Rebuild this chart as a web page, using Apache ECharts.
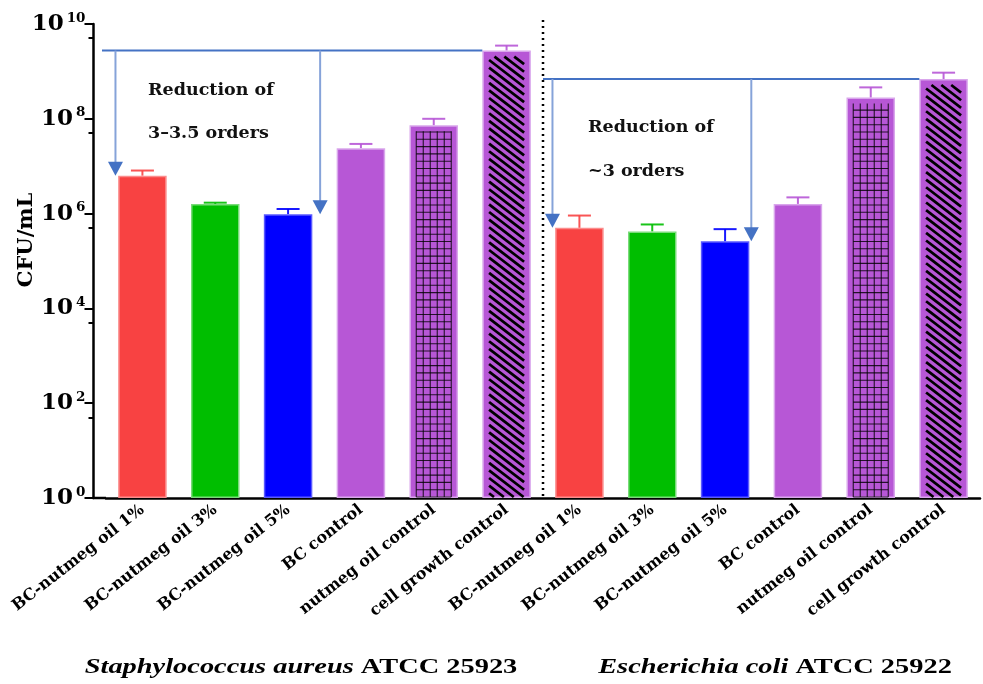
<!DOCTYPE html>
<html>
<head>
<meta charset="utf-8">
<script src="https://cdn.jsdelivr.net/npm/echarts@6/dist/echarts.min.js"></script>
<style>
  html, body { margin: 0; padding: 0; background: #ffffff; }
  #chart { width: 983px; height: 684px; }
</style>
</head>
<body>
<div id="chart"></div>
<script>
// Treatment groups, repeated for each organism
const categories = [
  'BC-nutmeg oil 1%', 'BC-nutmeg oil 3%', 'BC-nutmeg oil 5%',
  'BC control', 'nutmeg oil control', 'cell growth control',
  'BC-nutmeg oil 1%', 'BC-nutmeg oil 3%', 'BC-nutmeg oil 5%',
  'BC control', 'nutmeg oil control', 'cell growth control'
];

// Staphylococcus aureus ATCC 25923 (CFU/mL): mean and mean + SD
const saureusMean  = [6.3e6, 1.6e6, 9.7e5, 2.4e7, 7.3e7, 2.75e9];
const saureusUpper = [8.1e6, 1.7e6, 1.25e6, 2.95e7, 1.0e8, 3.5e9];

// Escherichia coli ATCC 25922 (CFU/mL): mean and mean + SD
const ecoliMean  = [5.0e5, 4.2e5, 2.6e5, 1.6e6, 2.8e8, 6.9e8];
const ecoliUpper = [9.1e5, 5.9e5, 4.7e5, 2.2e6, 4.6e8, 9.4e8];

// Fill pattern per group position: 0 none, 1 grid, 2 hatch
const patternKinds = [0, 0, 0, 0, 1, 2];

// Reduction annotations: reference bar (control) and the two arrow targets
const reductionControl = [5, 11];
const reductionTargets = [[0, 2], [6, 8]];
const reductionText = [['Reduction of', '3–3.5 orders'], ['Reduction of', '~3 orders']];

const organismTitles = [
  { italic: 'Staphylococcus aureus', plain: ' ATCC 25923' },
  { italic: 'Escherichia coli', plain: ' ATCC 25922' }
];

// --- styling ---
const fillColors   = ['#F84242', '#00BE00', '#0000FF', '#B757D6', '#B757D6', '#B757D6'];
const borderColors = ['#FB8C8C', '#7ADB7A', '#5A5AFF', '#D9A6EC', '#D9A6EC', '#D9A6EC'];
const serif = 'DejaVu Serif';
const arrowBlue = '#4472C4';
const arrowStem = '#86A3D9';

const means  = saureusMean.concat(ecoliMean);
const uppers = saureusUpper.concat(ecoliUpper);
const kinds  = patternKinds.concat(patternKinds);

const barData = means.map((v, i) => ({
  value: v,
  itemStyle: { color: fillColors[i % 6], borderColor: borderColors[i % 6], borderWidth: 1.5 }
}));
const errData = means.map((v, i) => [i, v, uppers[i]]);
const patternData = means.map((v, i) => [i, v, kinds[i]]).filter(d => d[2] > 0);
const annotationData = reductionControl.map((c, g) => [g, c, reductionTargets[g][0], reductionTargets[g][1]]);

const BAR_W = 48.5;
const Y_OFFSET = 12.5;

function renderErrorBar(params, api) {
  const i = api.value(0);
  const top = api.coord([i, api.value(1)]);
  const up = api.coord([i, api.value(2)]);
  const half = 11.5;
  const col = fillColors[i % 6];
  const st = { stroke: col, lineWidth: 2, opacity: 0.9 };
  return {
    type: 'group',
    children: [
      { type: 'line', shape: { x1: top[0], y1: top[1], x2: up[0], y2: up[1] }, style: st },
      { type: 'line', shape: { x1: up[0] - half, y1: up[1], x2: up[0] + half, y2: up[1] }, style: st }
    ]
  };
}

function renderPattern(params, api) {
  const i = api.value(0);
  const kind = api.value(2);
  const top = api.coord([i, api.value(1)]);
  const base = api.coord([i, 1]);
  const w = 35;
  const x0 = top[0] - w / 2, x1 = top[0] + w / 2;
  const yTop = top[1] + 6, yBot = base[1] - 1;
  const children = [];
  if (kind === 1) {
    const lineStyle = { stroke: '#000', lineWidth: 1.1, opacity: 0.8 };
    for (let k = 0; k <= 5; k++) {
      const x = x0 + k * w / 5;
      children.push({ type: 'line', shape: { x1: x, y1: yTop, x2: x, y2: yBot }, style: lineStyle });
    }
    for (let y = yBot; y >= yTop; y -= 7.3) {
      children.push({ type: 'line', shape: { x1: x0, y1: y, x2: x1, y2: y }, style: lineStyle });
    }
  } else {
    const s = 0.77;
    const lineStyle = { stroke: '#000', lineWidth: 2.7 };
    for (let b = yTop - s * w; b <= yBot; b += 7.6) {
      const xa = Math.max(x0, x0 + (yTop - b) / s);
      const xb = Math.min(x1, x0 + (yBot - b) / s);
      if (xb <= xa) continue;
      children.push({
        type: 'line',
        shape: { x1: xa, y1: b + s * (xa - x0), x2: xb, y2: b + s * (xb - x0) },
        style: lineStyle
      });
    }
  }
  return { type: 'group', children: children };
}

function arrow(x, yFrom, yTo) {
  const head = 14;
  return [
    { type: 'line', shape: { x1: x, y1: yFrom, x2: x, y2: yTo - head + 1 }, style: { stroke: arrowStem, lineWidth: 2 } },
    { type: 'polygon', shape: { points: [[x - 7.5, yTo - head], [x + 7.5, yTo - head], [x, yTo]] }, style: { fill: arrowBlue } }
  ];
}

function renderAnnotation(params, api) {
  const g = api.value(0);
  const ctrl = api.value(1);
  const t1 = api.value(2), t2 = api.value(3);
  const band = api.size([1, 0])[0];
  const level = api.coord([ctrl, means[ctrl]]);
  const p1 = api.coord([t1, means[t1]]);
  const p2 = api.coord([t2, means[t2]]);
  const first = api.coord([t1, 1]);
  const xStart = g === 0 ? first[0] - 0.555 * band : first[0] - 0.5 * band;
  const xEnd = level[0] - BAR_W / 2;
  const children = [
    { type: 'line', shape: { x1: xStart, y1: level[1], x2: xEnd, y2: level[1] }, style: { stroke: arrowBlue, lineWidth: 2 } }
  ].concat(
    arrow(p1[0] - 0.37 * band, level[1], p1[1]),
    arrow(p2[0] + (g === 0 ? 0.44 : 0.36) * band, level[1], p2[1])
  );
  if (g === 0) {
    // extend the category baseline back to the offset value axis
    const edge = first[0] - 0.5 * band;
    children.push({ type: 'line', shape: { x1: edge - Y_OFFSET - 1, y1: first[1], x2: edge, y2: first[1] }, style: { stroke: '#000', lineWidth: 2.5 } });
  } else {
    // dotted divider between the two organisms
    const xs = first[0] - 0.5 * band;
    const yTop = api.coord([t1, 1e10])[1] - 4;
    children.push({ type: 'line', shape: { x1: xs, y1: yTop, x2: xs, y2: first[1] }, style: { stroke: '#000', lineWidth: 2.5, lineDash: [2, 4] } });
  }
  return { type: 'group', children: children };
}

const chart = echarts.init(document.getElementById('chart'), null, { renderer: 'canvas' });

const textStyleAnno = { fontFamily: serif, fontWeight: 'bold', fontSize: 17.5, fill: '#111' };
const titleRich = {
  i: { fontFamily: 'Liberation Serif', fontStyle: 'italic', fontWeight: 'bold', fontSize: 20, fill: '#000' },
  p: { fontFamily: 'Liberation Serif', fontWeight: 'bold', fontSize: 20, fill: '#000' }
};

chart.setOption({
  animation: false,
  backgroundColor: '#ffffff',
  grid: { left: 106, right: 3, top: 24, bottom: 186, containLabel: false, outerBoundsMode: 'none' },
  xAxis: {
    type: 'category',
    data: categories,
    axisLine: { lineStyle: { color: '#000', width: 2.5 } },
    axisTick: { alignWithLabel: true, length: 6, lineStyle: { color: '#000', width: 2.5 } },
    axisLabel: {
      rotate: 38, interval: 0, margin: 10,
      fontFamily: serif, fontWeight: 'bold', fontSize: 16, color: '#000'
    }
  },
  yAxis: {
    type: 'log',
    logBase: 10,
    min: 1,
    max: 1e10,
    interval: 2,
    offset: Y_OFFSET,
    name: 'CFU/mL',
    nameLocation: 'middle',
    nameGap: 56,
    nameMoveOverlap: false,
    nameRotate: 90,
    nameTextStyle: { fontFamily: serif, fontWeight: 'bold', fontSize: 21, color: '#000', padding: [0, 0, 0, 42] },
    axisLine: { show: true, lineStyle: { color: '#000', width: 2.5 } },
    axisTick: { show: true, length: 9, lineStyle: { color: '#000', width: 2 } },
    minorTick: { show: true, splitNumber: 2, length: 5, lineStyle: { color: '#000', width: 2 } },
    splitLine: { show: false },
    axisLabel: {
      margin: 8,
      formatter: v => '{b|10}{s|' + Math.round(Math.log10(v)) + '}',
      rich: {
        b: { fontFamily: serif, fontWeight: 'bold', fontSize: 23, color: '#000' },
        s: { fontFamily: serif, fontWeight: 'bold', fontSize: 13.5, color: '#000', verticalAlign: 'top', padding: [0, 0, 12, 3] }
      }
    }
  },
  series: [
    {
      type: 'bar',
      data: barData,
      barWidth: BAR_W,
      z: 2
    },
    {
      type: 'custom',
      renderItem: renderPattern,
      data: patternData,
      encode: { x: 0, y: 1 },
      z: 3
    },
    {
      type: 'custom',
      renderItem: renderErrorBar,
      data: errData,
      encode: { x: 0, y: [1, 2] },
      z: 1
    },
    {
      type: 'custom',
      renderItem: renderAnnotation,
      data: annotationData,
      encode: { x: 2, y: 1 },
      z: 4,
      silent: true
    }
  ],
  graphic: [
    { type: 'text', left: 148, top: 81, style: Object.assign({ text: reductionText[0][0] }, textStyleAnno) },
    { type: 'text', left: 148, top: 124, style: Object.assign({ text: reductionText[0][1] }, textStyleAnno) },
    { type: 'text', left: 588, top: 118, style: Object.assign({ text: reductionText[1][0] }, textStyleAnno) },
    { type: 'text', left: 588, top: 162, style: Object.assign({ text: reductionText[1][1] }, textStyleAnno) },
    {
      type: 'text', x: 301, y: 668, scaleX: 1.42,
      style: {
        text: '{i|' + organismTitles[0].italic + '}{p|' + organismTitles[0].plain + '}',
        textAlign: 'center', textVerticalAlign: 'middle', rich: titleRich
      }
    },
    {
      type: 'text', x: 775, y: 668, scaleX: 1.42,
      style: {
        text: '{i|' + organismTitles[1].italic + '}{p|' + organismTitles[1].plain + '}',
        textAlign: 'center', textVerticalAlign: 'middle', rich: titleRich
      }
    }
  ]
});
</script>
</body>
</html>
